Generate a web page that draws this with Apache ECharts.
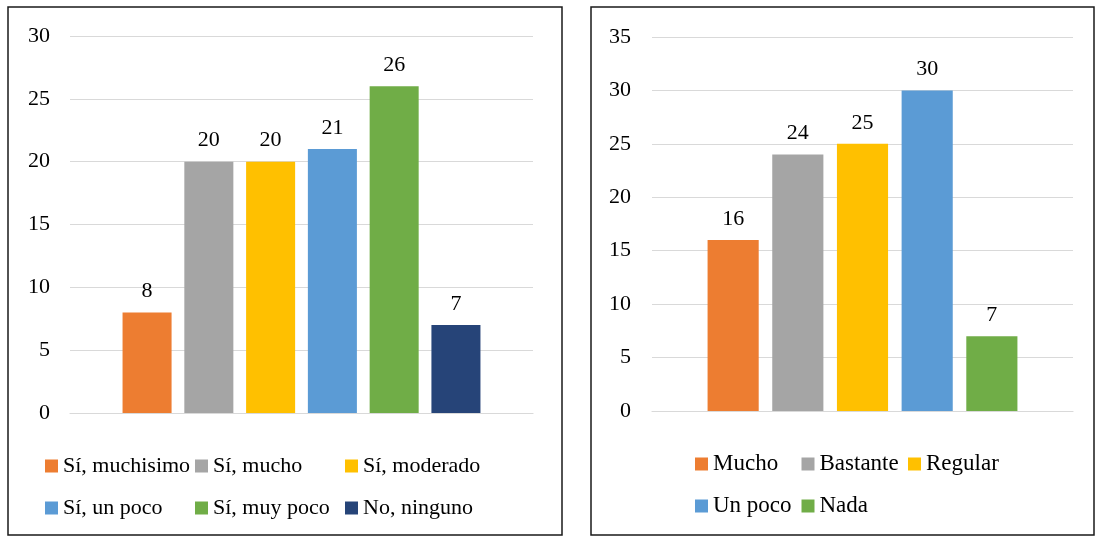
<!DOCTYPE html>
<html>
<head>
<meta charset="utf-8">
<script src="https://cdn.jsdelivr.net/npm/echarts@6/dist/echarts.min.js"></script>
<style>
  html, body { margin: 0; padding: 0; background: #fff; }
  #chart { width: 1096px; height: 536px; }
</style>
</head>
<body>
<div id="chart"></div>
<script>
// Left panel: answers and counts
const leftNames = ['Sí, muchisimo', 'Sí, mucho', 'Sí, moderado', 'Sí, un poco', 'Sí, muy poco', 'No, ninguno'];
const leftValues = [8, 20, 20, 21, 26, 7];
const leftColors = ['#ED7D31', '#A5A5A5', '#FFC000', '#5B9BD5', '#70AD47', '#264478'];

// Right panel: answers and counts
const rightNames = ['Mucho', 'Bastante', 'Regular', 'Un poco', 'Nada'];
const rightValues = [16, 24, 25, 30, 7];
const rightColors = ['#ED7D31', '#A5A5A5', '#FFC000', '#5B9BD5', '#70AD47'];

const FONT = '"Liberation Serif", "Times New Roman", serif';

function barSeries(names, values, colors, axisIndex, fontSize, catGap, gap) {
  return names.map((name, i) => ({
    type: 'bar',
    name: name,
    xAxisIndex: axisIndex,
    yAxisIndex: axisIndex,
    data: [values[i]],
    barGap: gap,
    barCategoryGap: catGap,
    itemStyle: { color: colors[i] },
    label: {
      show: true,
      position: 'top',
      distance: 10,
      color: '#000',
      fontFamily: FONT,
      fontSize: fontSize
    },
    emphasis: { disabled: true },
    animation: false
  }));
}

function yAxis(gridIndex, max, fontSize, margin) {
  return {
    type: 'value',
    gridIndex: gridIndex,
    min: 0,
    max: max,
    interval: 5,
    axisLine: { show: false },
    axisTick: { show: false },
    axisLabel: { color: '#000', fontFamily: FONT, fontSize: fontSize, margin: margin },
    splitLine: { lineStyle: { color: '#D9D9D9', width: 1.2 } }
  };
}

function xAxis(gridIndex) {
  return {
    type: 'category',
    gridIndex: gridIndex,
    data: [''],
    axisLine: { show: true, lineStyle: { color: '#D9D9D9', width: 1.2 } },
    axisTick: { show: false },
    axisLabel: { show: false }
  };
}

function legend(names, left, top, width, textWidth, fontSize) {
  return {
    data: names,
    left: left,
    top: top,
    width: width,
    padding: 0,
    orient: 'horizontal',
    icon: 'rect',
    itemWidth: 13,
    itemHeight: 13,
    itemGap: 0,
    selectedMode: false,
    textStyle: {
      color: '#000',
      fontFamily: FONT,
      fontSize: fontSize,
      width: textWidth,
      lineHeight: 42,
      overflow: 'none'
    }
  };
}

const chart = echarts.init(document.getElementById('chart'), null, { renderer: 'canvas' });

chart.setOption({
  backgroundColor: '#fff',
  animation: false,
  grid: [
    { left: 70, right: 563, top: 36, bottom: 123 },
    { left: 652, right: 23, top: 37, bottom: 125 }
  ],
  xAxis: [xAxis(0), xAxis(1)],
  yAxis: [yAxis(0, 30, 22, 20), yAxis(1, 35, 22, 21)],
  legend: [
    legend(leftNames, 45, 445, 460, 132, 22),
    legend(rightNames, 695, 443, 330, 88.5, 23)
  ],
  graphic: [
    { type: 'rect', shape: { x: 8, y: 7, width: 554, height: 528 },
      style: { fill: 'none', stroke: '#1a1a1a', lineWidth: 1.5 }, silent: true },
    { type: 'rect', shape: { x: 591, y: 7, width: 503, height: 528 },
      style: { fill: 'none', stroke: '#1a1a1a', lineWidth: 1.5 }, silent: true }
  ],
  series: [
    ...barSeries(leftNames, leftValues, leftColors, 0, 22, '22.7%', '26%'),
    ...barSeries(rightNames, rightValues, rightColors, 1, 22, '26.4%', '26.5%')
  ]
});
</script>
</body>
</html>
